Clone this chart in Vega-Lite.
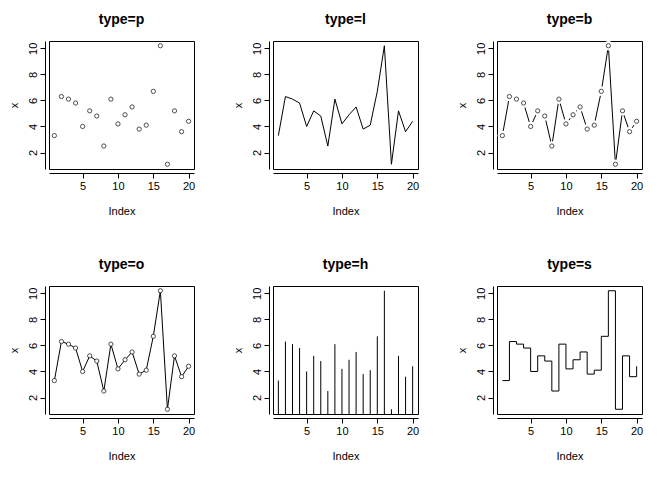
{
  "$schema": "https://vega.github.io/schema/vega-lite/v6.json",
  "background": "white",
  "padding": {"left": 7, "top": 12, "right": 5, "bottom": 5},
  "data": {"values": [
    {"i": 1, "x": 3.3}, {"i": 2, "x": 6.3}, {"i": 3, "x": 6.1}, {"i": 4, "x": 5.8},
    {"i": 5, "x": 4.0}, {"i": 6, "x": 5.2}, {"i": 7, "x": 4.8}, {"i": 8, "x": 2.5},
    {"i": 9, "x": 6.1}, {"i": 10, "x": 4.2}, {"i": 11, "x": 4.9}, {"i": 12, "x": 5.5},
    {"i": 13, "x": 3.8}, {"i": 14, "x": 4.1}, {"i": 15, "x": 6.7}, {"i": 16, "x": 10.2},
    {"i": 17, "x": 1.1}, {"i": 18, "x": 5.2}, {"i": 19, "x": 3.6}, {"i": 20, "x": 4.4}
  ]},
  "columns": 3,
  "spacing": {"column": 35, "row": 40},
  "config": {
    "font": "Liberation Sans",
    "view": {"stroke": "black", "strokeWidth": 1, "continuousWidth": 145, "continuousHeight": 128},
    "title": {"fontSize": 14, "fontWeight": "bold", "offset": 14, "color": "black"},
    "axis": {"grid": false, "domainColor": "black", "tickColor": "black", "labelColor": "black", "titleColor": "black", "labelFontSize": 11, "titleFontSize": 11, "titleFontWeight": "normal", "offset": 4},
    "axisX": {"titlePadding": 14},
    "axisY": {"labelAngle": 270, "labelAlign": "center", "labelBaseline": "bottom", "titlePadding": 8},
    "line": {"color": "black", "strokeWidth": 1},
    "rule": {"color": "black"},
    "point": {"color": "black"}
  },
  "concat": [
    {
      "title": "type=p", "width": 145, "height": 128, "view": {"stroke": "black"},
      "mark": {"type": "point", "size": 18, "strokeWidth": 1},
      "encoding": {
        "x": {"field": "i", "type": "quantitative", "title": "Index", "scale": {"domain": [0.24, 20.76], "nice": false}, "axis": {"values": [5, 10, 15, 20]}},
        "y": {"field": "x", "type": "quantitative", "scale": {"domain": [0.736, 10.564], "nice": false, "zero": false}, "axis": {"values": [2, 4, 6, 8, 10]}}
      }
    },
    {
      "title": "type=l", "width": 145, "height": 128, "view": {"stroke": "black"},
      "mark": {"type": "line"},
      "encoding": {
        "x": {"field": "i", "type": "quantitative", "title": "Index", "scale": {"domain": [0.24, 20.76], "nice": false}, "axis": {"values": [5, 10, 15, 20]}},
        "y": {"field": "x", "type": "quantitative", "scale": {"domain": [0.736, 10.564], "nice": false, "zero": false}, "axis": {"values": [2, 4, 6, 8, 10]}}
      }
    },
    {
      "title": "type=b", "width": 145, "height": 128, "view": {"stroke": "black"},
      "encoding": {
        "x": {"field": "i", "type": "quantitative", "title": "Index", "scale": {"domain": [0.24, 20.76], "nice": false}, "axis": {"values": [5, 10, 15, 20]}},
        "y": {"field": "x", "type": "quantitative", "scale": {"domain": [0.736, 10.564], "nice": false, "zero": false}, "axis": {"values": [2, 4, 6, 8, 10]}}
      },
      "layer": [
        {"mark": {"type": "line"}},
        {"mark": {"type": "point", "size": 90, "filled": true, "color": "white", "opacity": 1}},
        {"mark": {"type": "point", "size": 18, "strokeWidth": 1}}
      ]
    },
    {
      "title": "type=o", "width": 145, "height": 128, "view": {"stroke": "black"},
      "encoding": {
        "x": {"field": "i", "type": "quantitative", "title": "Index", "scale": {"domain": [0.24, 20.76], "nice": false}, "axis": {"values": [5, 10, 15, 20]}},
        "y": {"field": "x", "type": "quantitative", "scale": {"domain": [0.736, 10.564], "nice": false, "zero": false}, "axis": {"values": [2, 4, 6, 8, 10]}}
      },
      "layer": [
        {"mark": {"type": "line"}},
        {"mark": {"type": "point", "size": 18, "filled": true, "color": "white", "opacity": 1}},
        {"mark": {"type": "point", "size": 18, "strokeWidth": 1}}
      ]
    },
    {
      "title": "type=h", "width": 145, "height": 128, "view": {"stroke": "black"},
      "mark": {"type": "rule", "clip": true},
      "encoding": {
        "x": {"field": "i", "type": "quantitative", "title": "Index", "scale": {"domain": [0.24, 20.76], "nice": false}, "axis": {"values": [5, 10, 15, 20]}},
        "y": {"field": "x", "type": "quantitative", "scale": {"domain": [0.736, 10.564], "nice": false, "zero": false}, "axis": {"values": [2, 4, 6, 8, 10]}},
        "y2": {"datum": 0}
      }
    },
    {
      "title": "type=s", "width": 145, "height": 128, "view": {"stroke": "black"},
      "mark": {"type": "line", "interpolate": "step-after"},
      "encoding": {
        "x": {"field": "i", "type": "quantitative", "title": "Index", "scale": {"domain": [0.24, 20.76], "nice": false}, "axis": {"values": [5, 10, 15, 20]}},
        "y": {"field": "x", "type": "quantitative", "scale": {"domain": [0.736, 10.564], "nice": false, "zero": false}, "axis": {"values": [2, 4, 6, 8, 10]}}
      }
    }
  ]
}
